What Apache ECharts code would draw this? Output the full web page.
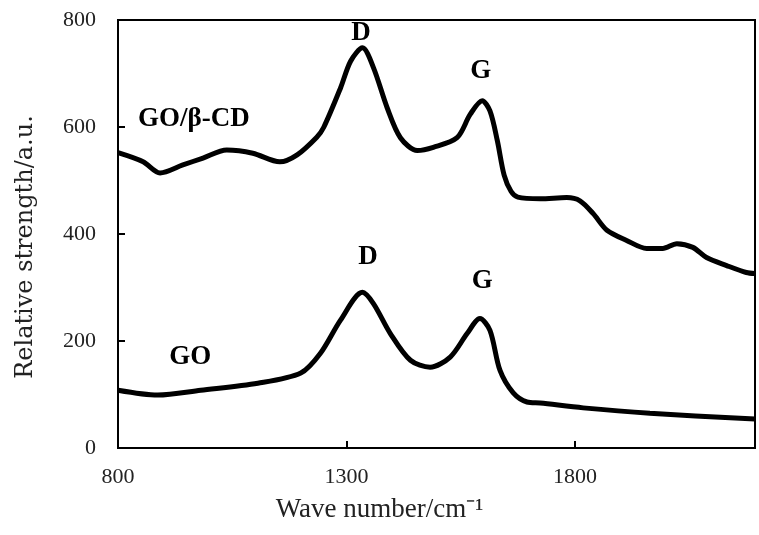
<!DOCTYPE html>
<html>
<head>
<meta charset="utf-8">
<script src="https://cdn.jsdelivr.net/npm/echarts@6/dist/echarts.min.js"></script>
<style>html,body{margin:0;padding:0;background:#fff}#c{width:759px;height:535px}</style>
</head>
<body>
<div id="c"></div>
<script>
var xTicks = [800, 1300, 1800];
var yTicks = [0, 200, 400, 600, 800];
var waveTop = [800, 855, 892, 942, 986, 1038, 1095, 1154, 1192, 1235, 1250, 1287, 1309, 1335, 1359, 1389, 1418, 1455, 1490, 1542, 1571, 1597, 1614, 1630, 1645, 1660, 1675, 1724, 1782, 1811, 1840, 1870, 1913, 1957, 1992, 2023, 2058, 2088, 2132, 2175, 2194];
var valTop  = [552, 535, 514, 529, 542, 557, 551, 535, 548, 581, 599, 673, 723, 748, 711, 636, 580, 556, 562, 580, 624, 649, 630, 575, 510, 480, 469, 466, 468, 462, 438, 407, 388, 373, 373, 382, 375, 356, 341, 328, 326];
var waveGO = [800, 887, 981, 1106, 1200, 1243, 1287, 1335, 1359, 1396, 1440, 1483, 1527, 1564, 1592, 1614, 1636, 1665, 1695, 1724, 1818, 1964, 2194];
var valGO  = [108, 99, 108, 121, 140, 177, 239, 291, 270, 214, 164, 151, 170, 214, 242, 220, 145, 103, 86, 84, 75, 65, 54];
var labels = [
  {text: 'GO/β-CD', x: 966, y: 615},
  {text: 'D', x: 1332, y: 776},
  {text: 'G', x: 1594, y: 705},
  {text: 'GO', x: 958, y: 170},
  {text: 'D', x: 1347, y: 357},
  {text: 'G', x: 1597, y: 312}
];
function pairs(xs, ys){ return xs.map(function(v,i){ return [v, ys[i]]; }); }
var serif = 'Liberation Serif, Times New Roman, serif';
var chart = echarts.init(document.getElementById('c'));
chart.setOption({
  animation: false,
  grid: {left: 118, right: 4, top: 20, bottom: 87, show: true, borderColor: '#000', borderWidth: 2, backgroundColor: 'transparent'},
  xAxis: {
    type: 'value', min: xTicks[0], max: 2194, interval: 500,
    name: 'Wave number/cm⁻¹', nameLocation: 'middle', nameGap: 48,
    nameTextStyle: {fontFamily: serif, fontSize: 27, color: '#222', padding: [0, 114, 0, 0]},
    axisLine: {show: true, lineStyle: {color: '#000', width: 2}},
    axisTick: {show: true, inside: true, length: 7, lineStyle: {color: '#000', width: 2}},
    axisLabel: {fontFamily: serif, fontSize: 22, color: '#222', margin: 18, showMaxLabel: false,
      formatter: function(v){ return String(v); }},
    splitLine: {show: false}
  },
  yAxis: {
    type: 'value', min: yTicks[0], max: yTicks[yTicks.length-1], interval: 200,
    name: 'Relative strength/a.u.', nameLocation: 'middle', nameGap: 80,
    nameTextStyle: {fontFamily: 'DejaVu Serif, serif', fontSize: 24, color: '#222', padding: [0, 26, 0, 0]},
    axisLine: {show: true, lineStyle: {color: '#000', width: 2}},
    axisTick: {show: true, inside: true, length: 7, lineStyle: {color: '#000', width: 2}},
    axisLabel: {fontFamily: serif, fontSize: 22, color: '#222', margin: 22},
    splitLine: {show: false}
  },
  series: [
    {type: 'line', data: pairs(waveTop, valTop), showSymbol: false, smooth: 0.3,
      lineStyle: {color: '#000', width: 5}},
    {type: 'line', data: pairs(waveGO, valGO), showSymbol: false, smooth: 0.3,
      lineStyle: {color: '#000', width: 5},
      markPoint: {symbol: 'circle', symbolSize: 0, silent: true,
        label: {show: true, position: 'inside', fontFamily: serif, fontWeight: 'bold', fontSize: 27, color: '#000',
          formatter: function(p){ return p.name; }},
        data: labels.map(function(l){ return {name: l.text, coord: [l.x, l.y]}; })}
    }
  ]
});
</script>
</body>
</html>
